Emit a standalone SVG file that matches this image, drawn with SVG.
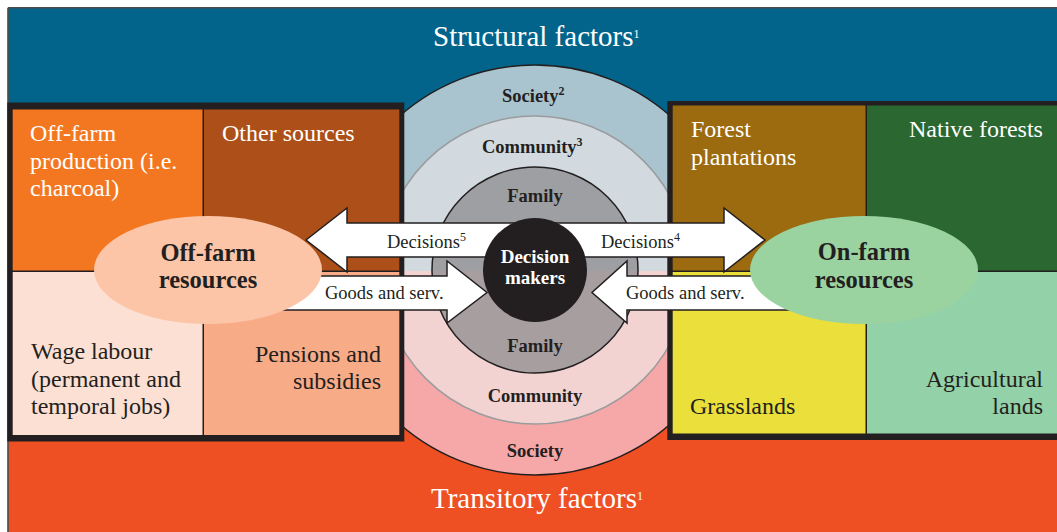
<svg xmlns="http://www.w3.org/2000/svg" width="1057" height="532" viewBox="0 0 1057 532">
  <defs>
    <style>
      text { font-family: "Liberation Serif", "Times New Roman", serif; }
      .cell { font-size: 24px; }
      .light { fill: #ffffff; }
      .dark { fill: #231F20; }
      .title { font-size: 29px; fill: #ffffff; }
      .sup { font-size: 12px; }
      .bsup { font-size: 12px; font-weight: bold; }
      .ring { font-size: 18.5px; font-weight: bold; fill: #231F20; }
      .hub { font-size: 19px; font-weight: bold; fill: #ffffff; text-anchor: middle; }
      .res { font-size: 24.5px; font-weight: bold; fill: #231F20; text-anchor: middle; }
      .flow { font-size: 18.5px; fill: #231F20; }
      .arrow { fill: #ffffff; stroke: #231F20; stroke-width: 1.5; stroke-linejoin: miter; }
    </style>
    <clipPath id="upperHalf"><rect x="0" y="0" width="1057" height="271"/></clipPath>
    <clipPath id="lowerHalf"><rect x="0" y="271" width="1057" height="261"/></clipPath>
  </defs>

  <!-- background: structural (top) and transitory (bottom) factors -->
  <g id="background">
    <rect x="0" y="0" width="1057" height="532" fill="#ffffff"/>
    <rect x="8" y="8" width="1060" height="263" fill="#02648A"/>
    <rect x="8" y="271" width="1060" height="270" fill="#EF5023"/>
    <path d="M8 7.8 H1057 M8 7.8 V532" fill="none" stroke="#4a4a4a" stroke-width="1.6"/>
  </g>

  <!-- concentric spheres of influence -->
  <g id="rings">
    <g clip-path="url(#upperHalf)">
      <circle cx="535" cy="270" r="205" fill="#A9C4CF" stroke="#231F20" stroke-width="1.5"/>
      <circle cx="535" cy="270" r="154" fill="#D2DADF" stroke="#9a9c9e" stroke-width="1.5"/>
      <circle cx="535" cy="270" r="103" fill="#9D9FA2" stroke="#231F20" stroke-width="1.5"/>
    </g>
    <g clip-path="url(#lowerHalf)">
      <circle cx="535" cy="270" r="205" fill="#F6A8A8" stroke="#231F20" stroke-width="1.5"/>
      <circle cx="535" cy="270" r="154" fill="#F2D3D2" stroke="#9a9c9e" stroke-width="1.5"/>
      <circle cx="535" cy="270" r="103" fill="#A69E9F" stroke="#231F20" stroke-width="1.5"/>
    </g>
  </g>

  <!-- off-farm resources block -->
  <g id="off-farm-box">
    <rect x="7.3" y="102.5" width="397" height="339" fill="#231F20"/>
    <rect x="12.7" y="109.5" width="189.8" height="161" fill="#F37720"/>
    <rect x="204" y="109.5" width="195.3" height="161" fill="#AC4F18"/>
    <rect x="12.7" y="272" width="189.8" height="163" fill="#FCE0D3"/>
    <rect x="204" y="272" width="195.3" height="163" fill="#F8AB87"/>
  </g>

  <!-- on-farm resources block -->
  <g id="on-farm-box">
    <rect x="667.3" y="101" width="400" height="339" fill="#231F20"/>
    <rect x="672.7" y="105.5" width="192.8" height="165" fill="#9C6B10"/>
    <rect x="867" y="105.5" width="200" height="165" fill="#2A6731"/>
    <rect x="672.7" y="272" width="192.8" height="161.5" fill="#EADF3B"/>
    <rect x="867" y="272" width="200" height="161.5" fill="#93D1A8"/>
  </g>

  <!-- flows between the resources and the decision makers -->
  <g id="connectors">
    <path id="goods-left" class="arrow" d="M280 276 H447 V261 L487 292.5 L447 323 V310 H280 Z"/>
    <path id="goods-right" class="arrow" d="M810 276 H627 V261 L592 292.5 L627 323 V310 H810 Z"/>
  </g>

  <g id="off-farm-resources">
    <ellipse cx="208" cy="270" rx="114" ry="54" fill="#FCC5A8"/>
    <text class="res" x="208" y="261">Off-farm</text>
    <text class="res" x="208" y="288">resources</text>
  </g>

  <g id="on-farm-resources">
    <ellipse cx="864" cy="270" rx="114" ry="54" fill="#9BD3A0"/>
    <text class="res" x="864" y="260">On-farm</text>
    <text class="res" x="864" y="288">resources</text>
  </g>

  <g id="decisions">
    <path class="arrow" d="M306 240 L347 208 V223 H724 V208 L765 240 L724 272 V257 H347 V272 Z"/>
  </g>

  <g id="decision-makers">
    <circle cx="535" cy="270" r="52" fill="#231F20"/>
    <text class="hub" x="535" y="263">Decision</text>
    <text class="hub" x="535" y="284">makers</text>
  </g>

  <!-- labels -->
  <g id="titles">
    <text class="title" x="433" y="46">Structural factors<tspan class="sup" dy="-8">1</tspan></text>
    <text class="title" x="431" y="508">Transitory factors<tspan class="sup" dy="-8">1</tspan></text>
  </g>

  <g id="ring-labels">
    <text class="ring" x="502" y="102">Society<tspan class="bsup" dy="-7">2</tspan></text>
    <text class="ring" x="482" y="153">Community<tspan class="bsup" dy="-7">3</tspan></text>
    <text class="ring" x="535" y="202" text-anchor="middle">Family</text>
    <text class="ring" x="535" y="352" text-anchor="middle">Family</text>
    <text class="ring" x="535" y="402" text-anchor="middle">Community</text>
    <text class="ring" x="535" y="457" text-anchor="middle">Society</text>
  </g>

  <g id="flow-labels">
    <text class="flow" x="387" y="248">Decisions<tspan class="sup" dy="-7">5</tspan></text>
    <text class="flow" x="601" y="248">Decisions<tspan class="sup" dy="-7">4</tspan></text>
    <text class="flow" x="325" y="299">Goods and serv.</text>
    <text class="flow" x="626" y="299">Goods and serv.</text>
  </g>

  <g id="off-farm-production">
    <text class="cell light" x="30" y="141">Off-farm</text>
    <text class="cell light" x="30" y="168.5">production (i.e.</text>
    <text class="cell light" x="30" y="196">charcoal)</text>
  </g>
  <g id="other-sources">
    <text class="cell light" x="222" y="141">Other sources</text>
  </g>
  <g id="wage-labour">
    <text class="cell dark" x="31" y="359">Wage labour</text>
    <text class="cell dark" x="31" y="386.5">(permanent and</text>
    <text class="cell dark" x="31" y="414">temporal jobs)</text>
  </g>
  <g id="pensions-subsidies">
    <text class="cell dark" x="381" y="362" text-anchor="end">Pensions and</text>
    <text class="cell dark" x="381" y="389" text-anchor="end">subsidies</text>
  </g>
  <g id="forest-plantations">
    <text class="cell light" x="691" y="137">Forest</text>
    <text class="cell light" x="691" y="165">plantations</text>
  </g>
  <g id="native-forests">
    <text class="cell light" x="909" y="137">Native forests</text>
  </g>
  <g id="grasslands">
    <text class="cell dark" x="690" y="414">Grasslands</text>
  </g>
  <g id="agricultural-lands">
    <text class="cell dark" x="1043" y="387" text-anchor="end">Agricultural</text>
    <text class="cell dark" x="1043" y="414" text-anchor="end">lands</text>
  </g>
</svg>
